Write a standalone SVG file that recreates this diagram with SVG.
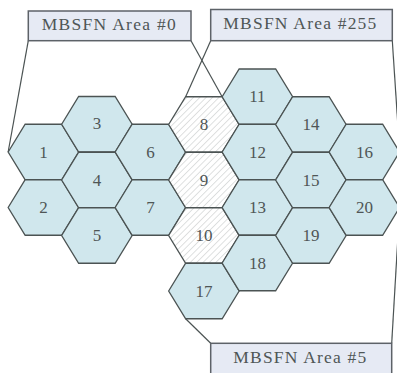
<svg xmlns="http://www.w3.org/2000/svg" xmlns:xlink="http://www.w3.org/1999/xlink" width="397" height="373" viewBox="0 0 397 373">
<style>
.hex{fill:#d0e7ed;stroke:#4b5353;stroke-width:1.3}
.hatch{fill:url(#hatch);stroke:#4b5353;stroke-width:1.3}
.num{font-family:"Liberation Serif","DejaVu Serif",serif;font-size:17px;fill:#4f5656;text-anchor:middle}
.box{fill:#e6eaf4;stroke:#5d6268;stroke-width:1.5}
.lbl{font-family:"Liberation Serif","DejaVu Serif",serif;font-size:17.5px;fill:#4f5656}
.conn{stroke:#4b5353;stroke-width:1.2;fill:none}
</style>
<defs>
<polygon id="h" points="-35.25,0 -18.25,-27.75 18.25,-27.75 35.25,0 18.25,27.75 -18.25,27.75"/>
<pattern id="hatch" patternUnits="userSpaceOnUse" width="4.5" height="4.5" patternTransform="rotate(45)">
<rect width="4.5" height="4.5" fill="#ffffff"/>
<line x1="0" y1="0" x2="0" y2="4.5" stroke="#b8bcbc" stroke-width="0.9"/>
</pattern>
</defs>
<rect width="397" height="373" fill="#ffffff"/>
<g id="connectors">
<line class="conn" x1="28.3" y1="40.7" x2="8.15" y2="152"/>
<line class="conn" x1="191" y1="40.7" x2="222.15" y2="96.75"/>
<line class="conn" x1="210.7" y1="40.7" x2="185.65" y2="96.75"/>
<line class="conn" x1="392.3" y1="40.7" x2="399.65" y2="152"/>
<line class="conn" x1="210.7" y1="343.3" x2="185.65" y2="318.75"/>
<line class="conn" x1="391.7" y1="343.3" x2="399.65" y2="207.5"/>
</g>
<g id="n1"><use href="#h" class="hex" x="43.4" y="152"/><text class="num" x="43.4" y="157.7">1</text></g>
<g id="n2"><use href="#h" class="hex" x="43.4" y="207.5"/><text class="num" x="43.4" y="213.2">2</text></g>
<g id="n3"><use href="#h" class="hex" x="96.9" y="124.25"/><text class="num" x="96.9" y="129">3</text></g>
<g id="n4"><use href="#h" class="hex" x="96.9" y="180"/><text class="num" x="96.9" y="185.7">4</text></g>
<g id="n5"><use href="#h" class="hex" x="96.9" y="235.5"/><text class="num" x="96.9" y="241.2">5</text></g>
<g id="n6"><use href="#h" class="hex" x="150.4" y="152"/><text class="num" x="150.4" y="157.7">6</text></g>
<g id="n7"><use href="#h" class="hex" x="150.4" y="207.5"/><text class="num" x="150.4" y="213.2">7</text></g>
<g id="n8"><use href="#h" class="hatch" x="203.9" y="124.5"/><text class="num" x="203.9" y="130.2">8</text></g>
<g id="n9"><use href="#h" class="hatch" x="203.9" y="180"/><text class="num" x="203.9" y="185.7">9</text></g>
<g id="n10"><use href="#h" class="hatch" x="203.9" y="235.5"/><text class="num" x="203.9" y="241.2">10</text></g>
<g id="n17"><use href="#h" class="hex" x="203.9" y="291"/><text class="num" x="203.9" y="296.7">17</text></g>
<g id="n11"><use href="#h" class="hex" x="257.4" y="96.75"/><text class="num" x="257.4" y="102.4">11</text></g>
<g id="n12"><use href="#h" class="hex" x="257.4" y="152"/><text class="num" x="257.4" y="157.7">12</text></g>
<g id="n13"><use href="#h" class="hex" x="257.4" y="207.5"/><text class="num" x="257.4" y="213.2">13</text></g>
<g id="n18"><use href="#h" class="hex" x="257.4" y="263"/><text class="num" x="257.4" y="268.7">18</text></g>
<g id="n14"><use href="#h" class="hex" x="310.9" y="124.5"/><text class="num" x="310.9" y="130.2">14</text></g>
<g id="n15"><use href="#h" class="hex" x="310.9" y="180"/><text class="num" x="310.9" y="185.7">15</text></g>
<g id="n19"><use href="#h" class="hex" x="310.9" y="235.5"/><text class="num" x="310.9" y="241.2">19</text></g>
<g id="n16"><use href="#h" class="hex" x="364.4" y="152"/><text class="num" x="364.4" y="157.7">16</text></g>
<g id="n20"><use href="#h" class="hex" x="364.4" y="207.5"/><text class="num" x="364.4" y="213.2">20</text></g>
<g id="area0"><rect class="box" x="28.3" y="11" width="162.7" height="29.7"/><text class="lbl" x="41.7" y="30" textLength="134" lengthAdjust="spacing">MBSFN Area #0</text></g>
<g id="area255"><rect class="box" x="210.7" y="9.5" width="181.6" height="31.2"/><text class="lbl" x="223.3" y="29.3" textLength="153" lengthAdjust="spacing">MBSFN Area #255</text></g>
<g id="area5"><rect class="box" x="210.7" y="343.3" width="181" height="40"/><text class="lbl" x="233.3" y="363.3" textLength="133" lengthAdjust="spacing">MBSFN Area #5</text></g>
</svg>
